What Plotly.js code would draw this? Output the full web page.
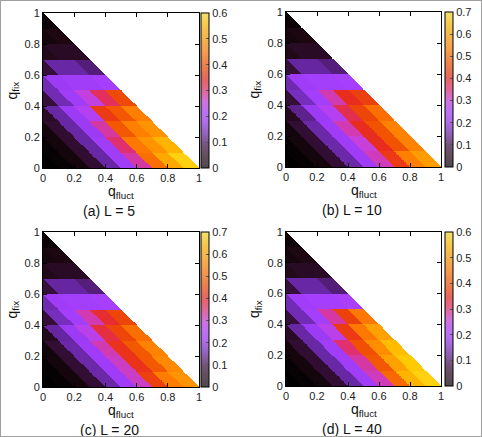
<!DOCTYPE html>
<html><head><meta charset="utf-8">
<script src="https://cdn.plot.ly/plotly-3.0.1.min.js"></script>
<style>
html,body{margin:0;padding:0;background:#fff;}
#chart{width:482px;height:437px;}
#frame{position:absolute;left:0;top:0;width:482px;height:437px;box-sizing:border-box;border:1px solid #a0a0a0;pointer-events:none;}
</style>
</head><body><div id="chart"></div><div id="frame"></div>
<script>
// Tick labels
const qTicks = [0, 0.2, 0.4, 0.6, 0.8, 1];
const panelLabels = ['(a) L = 5', '(b) L = 10', '(c) L = 20', '(d) L = 40'];
const zMaxes = [0.6, 0.7, 0.7, 0.6];

// Each row = one q_fix band (0-0.1, 0.1-0.2, ...); entries = cells along the
// diagonal bands of q_fix + q_fluct (from the q_fluct = 0 edge to the hypotenuse).
const valuesL5 = [
  [0.00, 0.01, 0.03, 0.07, 0.13, 0.20, 0.28, 0.43, 0.51, 0.57],
  [0.01, 0.03, 0.07, 0.13, 0.20, 0.30, 0.44, 0.48, 0.53],
  [0.03, 0.07, 0.13, 0.19, 0.28, 0.40, 0.45, 0.48],
  [0.06, 0.13, 0.19, 0.23, 0.36, 0.40, 0.45],
  [0.08, 0.14, 0.20, 0.25, 0.31, 0.38],
  [0.14, 0.19, 0.20, 0.20, 0.21],
  [0.08, 0.13, 0.13, 0.11],
  [0.05, 0.06, 0.06],
  [0.03, 0.04],
  [0.02]
];
const valuesL10 = [
  [0.00, 0.01, 0.035, 0.085, 0.155, 0.23, 0.315, 0.42, 0.525, 0.575],
  [0.01, 0.035, 0.085, 0.155, 0.23, 0.30, 0.40, 0.46, 0.53],
  [0.03, 0.085, 0.155, 0.23, 0.32, 0.40, 0.46, 0.53],
  [0.06, 0.14, 0.22, 0.27, 0.37, 0.44, 0.50],
  [0.09, 0.17, 0.24, 0.32, 0.40, 0.43],
  [0.16, 0.23, 0.24, 0.24, 0.25],
  [0.09, 0.15, 0.15, 0.13],
  [0.055, 0.07, 0.07],
  [0.035, 0.045],
  [0.02]
];
const valuesL20 = [
  [0.00, 0.01, 0.035, 0.085, 0.155, 0.23, 0.31, 0.43, 0.52, 0.56],
  [0.01, 0.035, 0.085, 0.155, 0.23, 0.31, 0.41, 0.47, 0.54],
  [0.03, 0.085, 0.155, 0.23, 0.32, 0.41, 0.47, 0.53],
  [0.06, 0.15, 0.22, 0.28, 0.38, 0.44, 0.50],
  [0.09, 0.17, 0.24, 0.32, 0.39, 0.44],
  [0.16, 0.23, 0.24, 0.24, 0.25],
  [0.09, 0.15, 0.15, 0.13],
  [0.055, 0.07, 0.07],
  [0.035, 0.045],
  [0.02]
];
const valuesL40 = [
  [0.00, 0.01, 0.03, 0.07, 0.13, 0.20, 0.27, 0.42, 0.53, 0.57],
  [0.01, 0.03, 0.07, 0.13, 0.20, 0.28, 0.40, 0.50, 0.56],
  [0.03, 0.07, 0.13, 0.20, 0.30, 0.39, 0.47, 0.54],
  [0.06, 0.13, 0.19, 0.24, 0.36, 0.44, 0.50],
  [0.08, 0.14, 0.21, 0.28, 0.37, 0.44],
  [0.14, 0.20, 0.21, 0.21, 0.22],
  [0.08, 0.13, 0.13, 0.11],
  [0.05, 0.06, 0.06],
  [0.03, 0.04],
  [0.02]
];
const panelValues = [valuesL5, valuesL10, valuesL20, valuesL40];

// ---- styling ----
const heatStops = [
  [0.00, '#000000'], [0.07, '#1e0812'], [0.14, '#3a1040'], [0.22, '#6a28a8'],
  [0.30, '#9838f0'], [0.36, '#a840ff'], [0.43, '#c840d8'], [0.50, '#e03070'],
  [0.57, '#e82c20'], [0.65, '#f05000'], [0.75, '#ff8000'], [0.85, '#ffa800'],
  [0.93, '#ffc800'], [1.00, '#ffe830']
];
function blend(hex, target, a) {
  const p = h => [1,3,5].map(i => parseInt(h.substr(i,2),16));
  const c = p(hex), t = p(target);
  return 'rgb(' + c.map((v,i) => Math.round(v*(1-a) + t[i]*a)).join(',') + ')';
}
const barStops = heatStops.map(s => [s[0], blend(s[1], '#e0d0e0', 0.35)]);

const FONT = 'Liberation Sans, Arial, Helvetica, sans-serif';
const N = 300;

function rasterize(rows) {
  const z = [];
  for (let r = 0; r < N; r++) {
    const y = (r + 0.5) / N;
    const row = [];
    for (let c = 0; c < N; c++) {
      const x = (c + 0.5) / N;
      if (x + y > 1) { row.push(null); continue; }
      const j = Math.min(9, Math.floor(y * 10));
      let m = Math.floor((x + y) * 10);
      m = Math.max(j, Math.min(9, m));
      row.push(rows[j][m - j]);
    }
    z.push(row);
  }
  return z;
}

const W = 482, H = 437;
// plot boxes in pixels: [left, top, right, bottom]
const boxes = [[43, 13, 199, 168], [286, 12, 441, 167], [43, 232, 199, 387], [286, 232, 441, 386]];
const cbX = [201, 445, 201, 445];

const data = [];
const layout = {
  width: W, height: H, margin: {l: 0, r: 0, t: 0, b: 0},
  paper_bgcolor: '#fff', plot_bgcolor: '#fff', showlegend: false,
  annotations: []
};

boxes.forEach((b, i) => {
  const k = i === 0 ? '' : String(i + 1);
  const xa = 'x' + k, ya = 'y' + k;
  data.push({
    type: 'heatmap', z: rasterize(panelValues[i]),
    x0: 0.5 / N, dx: 1 / N, y0: 0.5 / N, dy: 1 / N,
    colorscale: heatStops, zmin: 0, zmax: zMaxes[i], showscale: false,
    xaxis: xa, yaxis: ya, hoverinfo: 'skip'
  });
  const cy = 1 - ((b[1] + b[3]) / 2) / H;
  data.push({
    type: 'scatter', mode: 'markers', x: [null], y: [null], xaxis: xa, yaxis: ya,
    hoverinfo: 'skip', showlegend: false,
    marker: {
      color: [0], cmin: 0, cmax: zMaxes[i], colorscale: barStops, showscale: true,
      colorbar: {
        x: cbX[i] / W, xanchor: 'left', y: cy, yanchor: 'middle',
        len: b[3] - b[1], lenmode: 'pixels', thickness: 8, thicknessmode: 'pixels',
        xpad: 0, ypad: 0, outlinewidth: 1, outlinecolor: '#000',
        ticks: 'inside', ticklen: 3, tickcolor: '#555', dtick: 0.1, tick0: 0,
        tickformat: '.1~f', tickfont: {family: FONT, size: 11, color: '#222'}
      }
    }
  });
  const axCommon = {
    range: [0, 1], tickvals: qTicks, ticktext: qTicks.map(String),
    ticks: 'inside', ticklen: 4, tickcolor: '#000', mirror: 'ticks',
    showline: true, linecolor: '#000', linewidth: 1, showgrid: false, zeroline: false,
    tickfont: {family: FONT, size: 11, color: '#222'}, fixedrange: true
  };
  layout['xaxis' + k] = Object.assign({}, axCommon, {domain: [b[0] / W, b[2] / W], anchor: ya});
  layout['yaxis' + k] = Object.assign({}, axCommon, {domain: [1 - b[3] / H, 1 - b[1] / H], anchor: xa});

  const midX = (b[0] + b[2]) / 2, midY = (b[1] + b[3]) / 2;
  layout.annotations.push(
    {xref: 'paper', yref: 'paper', x: (b[0] - 31) / W, y: 1 - midY / H, text: 'q<sub>fix</sub>',
     textangle: -90, showarrow: false, xanchor: 'center', yanchor: 'middle',
     font: {family: FONT, size: 14, color: '#111'}},
    {xref: 'paper', yref: 'paper', x: midX / W, y: 1 - (b[3] + 24) / H, text: 'q<sub>fluct</sub>',
     showarrow: false, xanchor: 'center', yanchor: 'middle',
     font: {family: FONT, size: 14, color: '#111'}},
    {xref: 'paper', yref: 'paper', x: (midX - 12) / W, y: 1 - (b[3] + 43) / H, text: panelLabels[i],
     showarrow: false, xanchor: 'center', yanchor: 'middle',
     font: {family: FONT, size: 14, color: '#111'}}
  );
});

Plotly.newPlot('chart', data, layout, {displayModeBar: false, staticPlot: true});
</script>
</body></html>
